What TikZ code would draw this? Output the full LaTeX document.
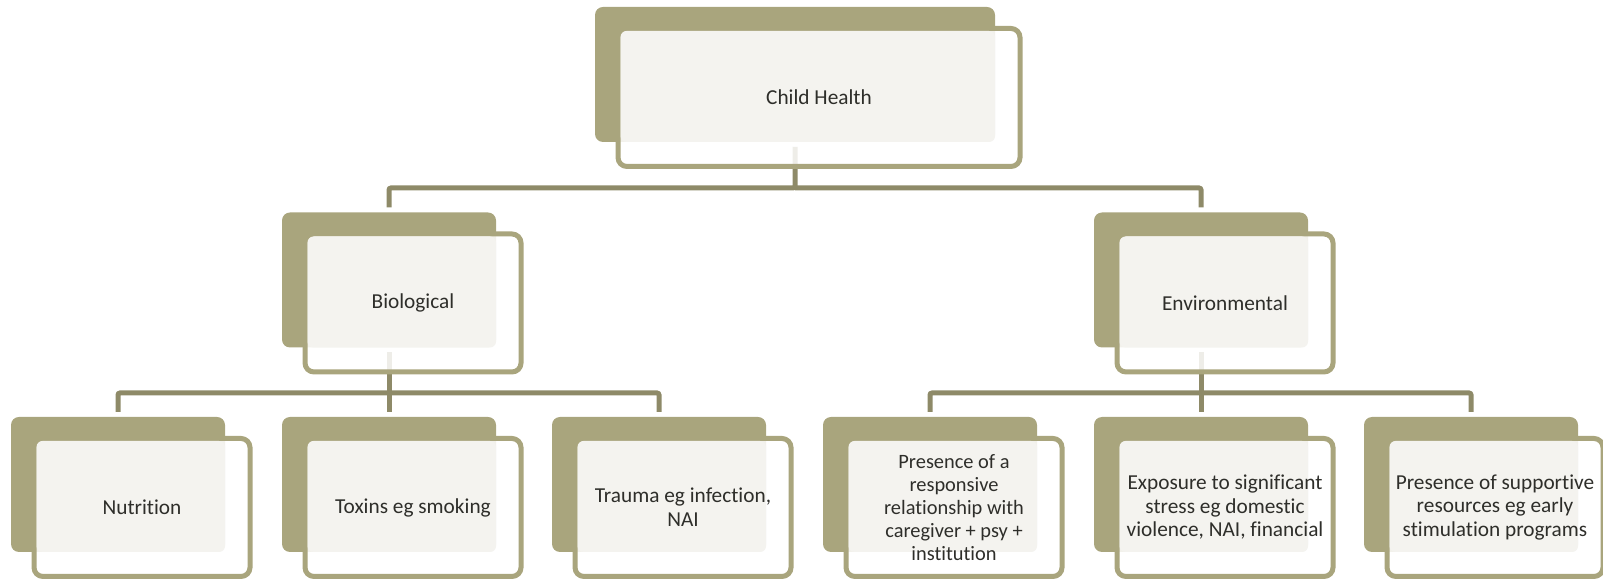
\documentclass[tikz,border=0pt]{standalone}
\usepackage{fontspec}
\setmainfont{Carlito}[Ligatures={NoCommon,NoContextual}]
\definecolor{olive}{HTML}{A9A57D}
\definecolor{linkcol}{HTML}{8E8A68}
\definecolor{paper}{HTML}{F4F3EF}
\definecolor{ink}{HTML}{2E2E2A}

\newcommand{\bigtxt}{\fontsize{21.3}{24}\selectfont}
\newcommand{\midtxt}{\fontsize{21.3}{23.5}\selectfont}
\newcommand{\smalltxt}{\fontsize{20.4}{23}\selectfont}

% one box of the chart: dark back, open frame, light face, text
\newcommand{\stackbox}[5]{%
  \node[darkbox,minimum width=#3pt] (#1) at (#2) {};
  \node[framebox,minimum width=#3pt+2pt] (#1F) at ([shift={(24,-23)}]#1) {};
  \fill[paper,rounded corners=6pt] ([shift={(2.5,-2.5)}]#1F.north west) rectangle (#1.south east);
  \node[textbox,font=#4] (#1T) at (#1F) {#5};
}

\begin{document}
\begin{tikzpicture}[x=1pt,y=1pt,
  darkbox/.style={fill=olive,rounded corners=8pt,minimum height=135pt,inner sep=0pt,outer sep=0pt},
  framebox/.style={draw=olive,line width=5pt,fill=white,fill opacity=0.85,rounded corners=9pt,minimum height=138pt,inner sep=0pt,outer sep=0pt},
  textbox/.style={text=ink,align=center,inner sep=0pt},
  link/.style={draw=linkcol,line width=5pt,rounded corners=2pt}]
\useasboundingbox (0,0) rectangle (1603,580);

% connectors first, the boxes lie over them
\coordinate (ch) at (795,505.5);
\coordinate (bio) at (389,300);
\coordinate (env) at (1201,300);
\coordinate (busA) at (795,392);
\coordinate (busB) at (389,187);
\coordinate (busC) at (1201,187);
\draw[link] ([yshift=-72.5pt]ch) -- (busA) -| ([yshift=72.5pt]bio);
\draw[link] (busA) -| ([yshift=72.5pt]env);
\draw[link] ([yshift=-72.5pt]bio) -- (busB);
\draw[link] ([yshift=-72.5pt]env) -- (busC);
\foreach \x in {118,389,659} \draw[link] (busB) -| (\x,168);
\foreach \x in {930,1201,1471} \draw[link] (busC) -| (\x,168);

% top
\stackbox{ch}{795,505.5}{400}{\bigtxt}{Child Health}

% second row
\stackbox{bio}{389,300}{214}{\bigtxt}{Biological}
\stackbox{env}{1201,300}{214}{\bigtxt}{Environmental}

% third row
\stackbox{nut}{118,95.5}{214}{\bigtxt}{Nutrition}
\stackbox{tox}{389,95.5}{214}{\bigtxt}{Toxins eg smoking}
\stackbox{tra}{659,95.5}{214}{\bigtxt}{Trauma eg infection,\\NAI}
\stackbox{rel}{930,95.5}{214}{\smalltxt}{Presence of a\\responsive\\relationship with\\caregiver + psy +\\institution}
\stackbox{str}{1201,95.5}{214}{\midtxt}{Exposure to significant\\stress eg domestic\\violence, NAI, financial}
\stackbox{sup}{1471,95.5}{214}{\midtxt}{Presence of supportive\\resources eg early\\stimulation programs}
\end{tikzpicture}
\end{document}
